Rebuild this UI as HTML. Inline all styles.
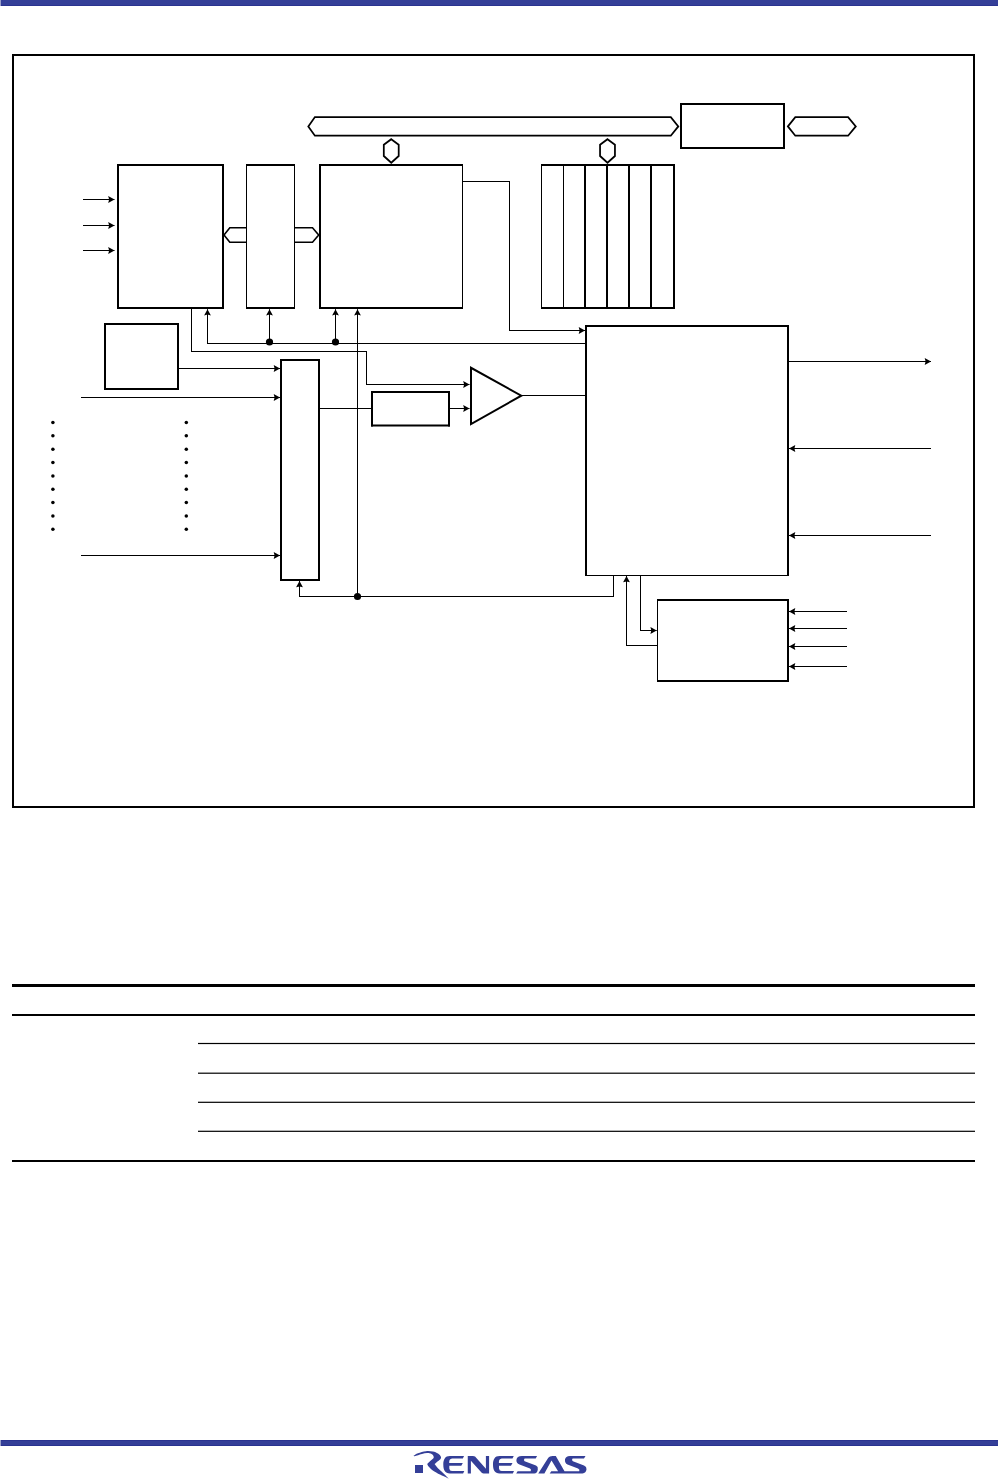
<!DOCTYPE html>
<html><head><meta charset="utf-8"><style>
html,body{margin:0;padding:0;background:#fff;width:998px;height:1479px;overflow:hidden;font-family:"Liberation Sans",sans-serif;}
svg{position:absolute;left:0;top:0;}
</style></head><body>
<svg width="998" height="1479" viewBox="0 0 998 1479">
<rect x="0" y="0" width="998" height="5" fill="#343f98"/>
<rect x="0" y="5" width="998" height="1" fill="#2a3390"/>
<rect x="0" y="0" width="1" height="6" fill="#9a9fcb"/>
<g>
<rect x="12" y="54" width="963" height="2" fill="#000"/>
<rect x="12" y="806" width="963" height="2" fill="#000"/>
<rect x="12" y="54" width="2" height="754" fill="#000"/>
<rect x="973" y="54" width="2" height="754" fill="#000"/>
<polygon points="308.3,126.4 314.9,117.1 670.8,117.1 678.3,126.4 670.8,135.7 314.9,135.7" fill="none" stroke="#000" stroke-width="1.75" stroke-linejoin="miter"/>
<rect x="680" y="103" width="105" height="2" fill="#000"/>
<rect x="680" y="147" width="105" height="2" fill="#000"/>
<rect x="680" y="103" width="2" height="46" fill="#000"/>
<rect x="783" y="103" width="2" height="46" fill="#000"/>
<polygon points="787.9,126.4 795.3,117.1 848.1,117.1 855.8,126.4 848.1,135.7 795.3,135.7" fill="none" stroke="#000" stroke-width="1.75" stroke-linejoin="miter"/>
<polygon points="391.25,139.2 398.7,144.7 398.7,156 391.25,162.7 383.8,156 383.8,144.7" fill="none" stroke="#000" stroke-width="1.75" stroke-linejoin="miter"/>
<polygon points="607.5,139.2 614.95,144.7 614.95,156 607.5,162.7 600.05,156 600.05,144.7" fill="none" stroke="#000" stroke-width="1.75" stroke-linejoin="miter"/>
<rect x="117" y="164" width="107" height="2" fill="#000"/>
<rect x="117" y="307" width="107" height="2" fill="#000"/>
<rect x="117" y="164" width="2" height="145" fill="#000"/>
<rect x="222" y="164" width="2" height="145" fill="#000"/>
<rect x="246" y="164" width="49" height="2" fill="#000"/>
<rect x="246" y="307" width="49" height="2" fill="#000"/>
<rect x="246" y="164" width="1" height="145" fill="#000"/>
<rect x="294" y="164" width="1" height="145" fill="#000"/>
<rect x="319" y="164" width="144" height="2" fill="#000"/>
<rect x="319" y="307" width="144" height="2" fill="#000"/>
<rect x="319" y="164" width="2" height="145" fill="#000"/>
<rect x="462" y="164" width="1" height="145" fill="#000"/>
<rect x="541" y="164" width="134" height="2" fill="#000"/>
<rect x="541" y="307" width="134" height="2" fill="#000"/>
<rect x="541" y="164" width="1" height="145" fill="#000"/>
<rect x="673" y="164" width="2" height="145" fill="#000"/>
<rect x="563" y="165" width="1" height="143" fill="#000"/>
<rect x="584" y="165" width="2" height="143" fill="#000"/>
<rect x="606" y="165" width="2" height="143" fill="#000"/>
<rect x="628" y="165" width="2" height="143" fill="#000"/>
<rect x="650" y="165" width="2" height="143" fill="#000"/>
<rect x="83" y="199" width="31.5" height="1" fill="#000"/>
<polygon points="114.5,199.5 108.2,196.1 109.1,199.5 108.2,202.9" fill="#000"/>
<rect x="83" y="225" width="31.5" height="1" fill="#000"/>
<polygon points="114.5,225.5 108.2,222.1 109.1,225.5 108.2,228.9" fill="#000"/>
<rect x="83" y="250" width="31.5" height="1" fill="#000"/>
<polygon points="114.5,250.5 108.2,247.1 109.1,250.5 108.2,253.9" fill="#000"/>
<polyline points="246.5,227.8 229.8,227.8 224,235.1 229.8,242.3 246.5,242.3" fill="none" stroke="#000" stroke-width="1.6" stroke-linejoin="miter"/>
<polyline points="294.5,227.8 312.5,227.8 318.7,235.1 312.5,242.3 294.5,242.3" fill="none" stroke="#000" stroke-width="1.6" stroke-linejoin="miter"/>
<rect x="462.5" y="181" width="47.5" height="1" fill="#000"/>
<rect x="509" y="181.5" width="1" height="149" fill="#000"/>
<rect x="509" y="330" width="76" height="1" fill="#000"/>
<polygon points="585,330.5 578.7,327.1 579.6,330.5 578.7,333.9" fill="#000"/>
<rect x="191" y="309" width="1" height="42.5" fill="#000"/>
<rect x="191" y="351" width="176" height="1" fill="#000"/>
<rect x="366" y="351.5" width="1" height="33" fill="#000"/>
<rect x="366" y="384" width="103.5" height="1" fill="#000"/>
<polygon points="469.5,384.5 463.2,381.1 464.1,384.5 463.2,387.9" fill="#000"/>
<rect x="207" y="343" width="379" height="1" fill="#000"/>
<rect x="207" y="309.2" width="1" height="34.3" fill="#000"/>
<polygon points="207.5,309.2 204.1,315.5 207.5,314.6 210.9,315.5" fill="#000"/>
<rect x="269" y="309.2" width="1" height="34.3" fill="#000"/>
<polygon points="269.5,309.2 266.1,315.5 269.5,314.6 272.9,315.5" fill="#000"/>
<circle cx="269.5" cy="342" r="3.6" fill="#000"/>
<rect x="335" y="309.2" width="1" height="34.3" fill="#000"/>
<polygon points="335.5,309.2 332.1,315.5 335.5,314.6 338.9,315.5" fill="#000"/>
<circle cx="335.5" cy="342" r="3.6" fill="#000"/>
<rect x="357" y="309.2" width="1" height="287.3" fill="#000"/>
<polygon points="357.5,309.2 354.1,315.5 357.5,314.6 360.9,315.5" fill="#000"/>
<rect x="104" y="323" width="75" height="2" fill="#000"/>
<rect x="104" y="388" width="75" height="2" fill="#000"/>
<rect x="104" y="323" width="2" height="67" fill="#000"/>
<rect x="177" y="323" width="2" height="67" fill="#000"/>
<rect x="179" y="368" width="101" height="1" fill="#000"/>
<polygon points="280,368.5 273.7,365.1 274.6,368.5 273.7,371.9" fill="#000"/>
<rect x="81" y="397" width="199" height="1" fill="#000"/>
<polygon points="280,397.5 273.7,394.1 274.6,397.5 273.7,400.9" fill="#000"/>
<rect x="81" y="555" width="199" height="1" fill="#000"/>
<polygon points="280,555.5 273.7,552.1 274.6,555.5 273.7,558.9" fill="#000"/>
<rect x="280" y="359" width="40" height="2" fill="#000"/>
<rect x="280" y="579" width="40" height="2" fill="#000"/>
<rect x="280" y="359" width="2" height="222" fill="#000"/>
<rect x="318" y="359" width="2" height="222" fill="#000"/>
<rect x="320" y="408" width="51" height="1" fill="#000"/>
<rect x="371" y="391" width="79" height="2" fill="#000"/>
<rect x="371" y="424.5" width="79" height="2" fill="#000"/>
<rect x="371" y="391" width="2" height="35.5" fill="#000"/>
<rect x="448" y="391" width="2" height="35.5" fill="#000"/>
<rect x="450" y="408" width="19.5" height="1" fill="#000"/>
<polygon points="469.5,408.5 463.2,405.1 464.1,408.5 463.2,411.9" fill="#000"/>
<polygon points="471,367.8 471,424 521.3,395.7" fill="none" stroke="#000" stroke-width="2" stroke-linejoin="miter"/>
<rect x="522" y="395" width="63" height="1" fill="#000"/>
<rect x="585" y="325" width="204" height="2" fill="#000"/>
<rect x="585" y="575" width="204" height="1" fill="#000"/>
<rect x="585" y="325" width="2" height="251" fill="#000"/>
<rect x="787" y="325" width="2" height="251" fill="#000"/>
<rect x="789" y="361" width="142" height="1" fill="#000"/>
<polygon points="931,361.5 924.7,358.1 925.6,361.5 924.7,364.9" fill="#000"/>
<rect x="789" y="448" width="142" height="1" fill="#000"/>
<polygon points="789,448.5 795.3,445.1 794.4,448.5 795.3,451.9" fill="#000"/>
<rect x="789" y="535" width="142" height="1" fill="#000"/>
<polygon points="789,535.5 795.3,532.1 794.4,535.5 795.3,538.9" fill="#000"/>
<rect x="613" y="576" width="1" height="20.5" fill="#000"/>
<rect x="299" y="596" width="315" height="1" fill="#000"/>
<rect x="299" y="581" width="1" height="15.5" fill="#000"/>
<polygon points="299.5,581 296.1,587.3 299.5,586.4 302.9,587.3" fill="#000"/>
<circle cx="357.5" cy="596.5" r="3.6" fill="#000"/>
<rect x="626" y="645" width="31" height="1" fill="#000"/>
<rect x="626" y="576" width="1" height="69.5" fill="#000"/>
<polygon points="626.5,576 623.1,582.3 626.5,581.4 629.9,582.3" fill="#000"/>
<rect x="640" y="576" width="1" height="54.5" fill="#000"/>
<rect x="640" y="630" width="16.7" height="1" fill="#000"/>
<polygon points="656.7,630.5 650.4,627.1 651.3,630.5 650.4,633.9" fill="#000"/>
<rect x="657" y="599" width="132" height="2" fill="#000"/>
<rect x="657" y="680" width="132" height="2" fill="#000"/>
<rect x="657" y="599" width="1" height="83" fill="#000"/>
<rect x="787" y="599" width="2" height="83" fill="#000"/>
<rect x="789" y="611" width="58" height="1" fill="#000"/>
<polygon points="789,611.5 795.3,608.1 794.4,611.5 795.3,614.9" fill="#000"/>
<rect x="789" y="628" width="58" height="1" fill="#000"/>
<polygon points="789,628.5 795.3,625.1 794.4,628.5 795.3,631.9" fill="#000"/>
<rect x="789" y="646" width="58" height="1" fill="#000"/>
<polygon points="789,646.5 795.3,643.1 794.4,646.5 795.3,649.9" fill="#000"/>
<rect x="789" y="666" width="58" height="1" fill="#000"/>
<polygon points="789,666.5 795.3,663.1 794.4,666.5 795.3,669.9" fill="#000"/>
<circle cx="52.9" cy="422.5" r="1.75" fill="#000"/>
<circle cx="186.3" cy="422.5" r="1.75" fill="#000"/>
<circle cx="52.9" cy="435.85" r="1.75" fill="#000"/>
<circle cx="186.3" cy="435.85" r="1.75" fill="#000"/>
<circle cx="52.9" cy="449.2" r="1.75" fill="#000"/>
<circle cx="186.3" cy="449.2" r="1.75" fill="#000"/>
<circle cx="52.9" cy="462.55" r="1.75" fill="#000"/>
<circle cx="186.3" cy="462.55" r="1.75" fill="#000"/>
<circle cx="52.9" cy="475.9" r="1.75" fill="#000"/>
<circle cx="186.3" cy="475.9" r="1.75" fill="#000"/>
<circle cx="52.9" cy="489.25" r="1.75" fill="#000"/>
<circle cx="186.3" cy="489.25" r="1.75" fill="#000"/>
<circle cx="52.9" cy="502.6" r="1.75" fill="#000"/>
<circle cx="186.3" cy="502.6" r="1.75" fill="#000"/>
<circle cx="52.9" cy="515.95" r="1.75" fill="#000"/>
<circle cx="186.3" cy="515.95" r="1.75" fill="#000"/>
<circle cx="52.9" cy="529.3" r="1.75" fill="#000"/>
<circle cx="186.3" cy="529.3" r="1.75" fill="#000"/>
<rect x="12" y="984" width="963" height="3" fill="#000"/>
<rect x="12" y="1014" width="963" height="2" fill="#000"/>
<rect x="198" y="1042.9" width="777" height="1.2" fill="#000"/>
<rect x="198" y="1072.6" width="777" height="1.2" fill="#000"/>
<rect x="198" y="1101.7" width="777" height="1.2" fill="#000"/>
<rect x="198" y="1130.7" width="777" height="1.2" fill="#000"/>
<rect x="12" y="1160" width="963" height="2" fill="#000"/>
</g>
<rect x="0" y="1440" width="998" height="6" fill="#343f98"/>
<rect x="0" y="1440" width="998" height="1" fill="#2a3390"/>
<rect x="0" y="1445" width="998" height="1" fill="#2a3390"/>
<rect x="0" y="1440" width="1" height="6" fill="#9a9fcb"/>
<g fill="#343f98">
<rect x="415" y="1465" width="8" height="8"/>
<path d="M414.3,1456.3 C414.23,1456.18 413.28,1456.12 413.9,1455.6 C414.52,1455.08 415.98,1453.93 418,1453.2 C420.02,1452.47 423.53,1451.47 426,1451.2 C428.47,1450.93 430.8,1451.2 432.8,1451.6 C434.8,1452 436.65,1452.73 438,1453.6 C439.35,1454.47 440.55,1455.8 440.9,1456.8 C441.25,1457.8 440.75,1458.75 440.1,1459.6 C439.45,1460.45 437.92,1461.17 437,1461.9 C436.08,1462.63 435,1463.65 434.6,1464 C434.92,1464.43 435.72,1465.67 436.5,1466.6 C437.28,1467.53 438.03,1468.37 439.3,1469.6 C440.57,1470.83 442.5,1472.45 444.1,1474 C445.7,1475.55 448.1,1478.08 448.9,1478.9 C448.57,1478.7 448.38,1478.43 446.9,1477.7 C445.42,1476.97 442.35,1475.72 440,1474.5 C437.65,1473.28 434.67,1471.68 432.8,1470.4 C430.93,1469.12 429.73,1467.87 428.8,1466.8 C427.87,1465.73 427.47,1464.47 427.2,1464 C427.67,1463.53 429,1462.1 430,1461.2 C431,1460.3 432.6,1459.4 433.2,1458.6 C433.8,1457.8 433.87,1457.15 433.6,1456.4 C433.33,1455.65 432.67,1454.65 431.6,1454.1 C430.53,1453.55 428.8,1453.13 427.2,1453.1 C425.6,1453.07 423.7,1453.52 422,1453.9 C420.3,1454.28 418.28,1455 417,1455.4 C415.72,1455.8 414.75,1456.15 414.3,1456.3 Z"/>
<path d="M449.9,1456.06 L464.05,1456.06 L462.8,1458.5 L452,1458.5 Q449.3,1459 449.2,1461.9 L449.2,1463.1 L462.8,1463.1 L461.3,1465.7 L449.3,1465.7 L449.3,1468.5 Q449.6,1471.1 452,1471.1 L464.3,1471.1 L463.1,1473.5 L449.9,1473.5 C445,1473.5 443.3,1470 443.3,1464.8 C443.3,1459.5 445,1456.06 449.9,1456.06 Z"/>
<path d="M449.9,1456.06 L464.05,1456.06 L462.8,1458.5 L452,1458.5 Q449.3,1459 449.2,1461.9 L449.2,1463.1 L462.8,1463.1 L461.3,1465.7 L449.3,1465.7 L449.3,1468.5 Q449.6,1471.1 452,1471.1 L464.3,1471.1 L463.1,1473.5 L449.9,1473.5 C445,1473.5 443.3,1470 443.3,1464.8 C443.3,1459.5 445,1456.06 449.9,1456.06 Z" transform="translate(49.7,0)"/>
<path d="M467.76,1456.06 L473,1456.06 Q475.3,1456.06 476.6,1458.3 L485.9,1468.8 L485.9,1456.06 L489.1,1456.06 L489.1,1473.5 L483.5,1473.5 Q481.8,1473.3 480.8,1471.8 L470.9,1460.7 L470.9,1473.5 L467.76,1473.5 Z"/>
<path d="M521.9,1456.06 L537.1,1456.06 L535.7,1458.6 L524.6,1458.6 Q523.2,1460.1 524.6,1461.2 L536,1465.5 Q538.4,1466.8 537.8,1469.4 Q537.3,1473.3 534.2,1473.6 L516.2,1473.6 L517.6,1471.2 L530.6,1471.2 Q531.8,1469.4 530,1468.4 L519.5,1464.6 Q516.2,1463.2 516.4,1460 Q516.8,1456.3 521.9,1456.06 Z"/>
<path d="M538.25,1473.5 L548.3,1457.7 Q549.6,1456.06 552.5,1456.06 L555.8,1456.06 L564.5,1471.2 L579.2,1471.2 Q580.3,1469.5 578,1468.4 L567.5,1464.6 Q564.6,1463 565,1459.5 Q565.6,1456.3 569.9,1456.06 L585.5,1456.06 L584,1458.6 L572.6,1458.6 Q571.2,1460.1 572.9,1461.3 L584,1465.5 Q586.8,1466.8 586.5,1469.3 Q586,1473.3 582.5,1473.5 L549.7,1473.5 L551.3,1471.2 L558.1,1471.2 L551.5,1460.4 L544.4,1473.5 Z"/>
</g>
</svg>
</body></html>
